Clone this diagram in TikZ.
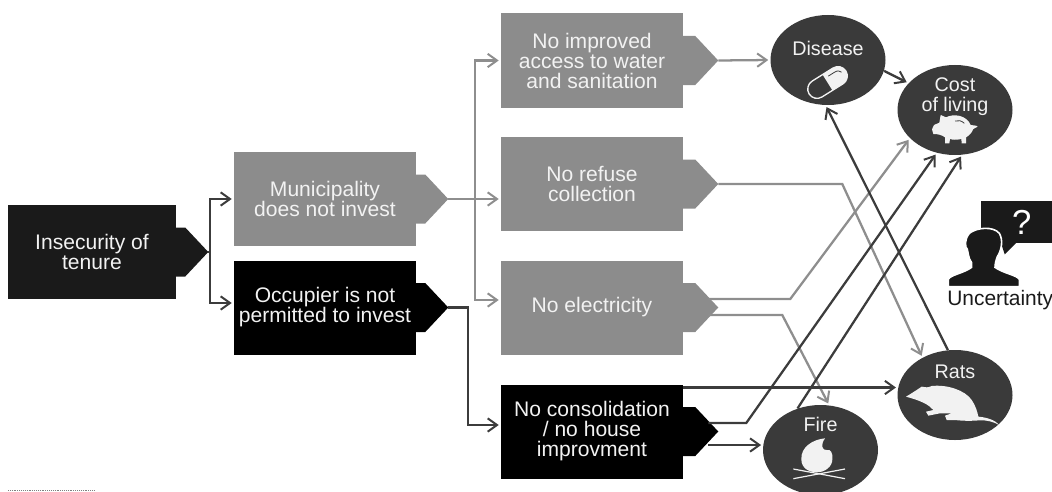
\documentclass[tikz,border=0pt]{standalone}
\usepackage{fontspec}
\setmainfont{Liberation Sans}
\usetikzlibrary{arrows.meta,calc,shapes.geometric}
\definecolor{boxgray}{HTML}{8C8C8C}
\definecolor{linegray}{HTML}{8E8E8E}
\definecolor{darkline}{HTML}{3C3C3C}
\definecolor{circ}{HTML}{3A3A3A}
\definecolor{ink}{HTML}{1A1A1A}
\definecolor{paper}{HTML}{F2F2F2}
\tikzset{
  basebox/.style={rectangle,minimum width=136.5pt,minimum height=70.5pt,inner sep=0pt,align=center,text=paper,
    font=\fontsize{15.8}{15}\selectfont},
  graybox/.style={basebox,fill=boxgray},
  blackbox/.style={basebox,fill=black},
  blob/.style={ellipse,fill=circ,minimum width=86.25pt,minimum height=67.5pt,inner sep=0pt,text=paper,
    font=\fontsize{14.8}{15}\selectfont},
  link/.style={line width=1.7pt,-{Straight Barb[length=7pt,width=10pt,line width=1.5pt]},shorten >=1.5pt},
  glink/.style={link,draw=linegray},
  dlink/.style={link,draw=darkline},
  icon/.style={x=0.25pt,y=-0.25pt}
}
\newcommand{\boxtab}[3]{%
  \fill[#3] ($(#1.east)+(-0.5,-24.5)$) -- ($(#1.east)+(#2,-24.5)$) -- ($(#1.east)+(#2+23,0)$) -- ($(#1.east)+(#2,24.5)$) -- ($(#1.east)+(-0.5,24.5)$) -- cycle;
  \coordinate (#1-tip) at ($(#1.east)+(#2+23,0)$);}
\newcommand{\uptext}[2]{\smash{\raisebox{#1}{\begin{tabular}{@{}c@{}}#2\end{tabular}}}}
\begin{document}
\begin{tikzpicture}[x=0.75pt,y=-0.75pt]
\useasboundingbox (0,0) rectangle (1052,492);
\clip (0,0) rectangle (1052,492);
% boxes
\node[basebox,fill=ink,minimum width=126pt] (ins) at (92,252) {Insecurity of\\tenure};
\boxtab{ins}{9}{ink}
\node[graybox] (mun) at (325,199) {Municipality\\does not invest};
\boxtab{mun}{9}{boxgray}
\node[blackbox] (occ) at (325,307.5) {Occupier is not\\permitted to invest};
\boxtab{occ}{9}{black}
\node[graybox] (imp) at (592,60.5) {No improved\\access to water\\and sanitation};
\boxtab{imp}{12}{boxgray}
\node[graybox] (ref) at (592,184) {No refuse\\collection};
\boxtab{ref}{12}{boxgray}
\node[graybox] (ele) at (592,307.5) {No electricity};
\boxtab{ele}{12}{boxgray}
\node[blackbox] (con) at (592,431.5) {No consolidation\\/ no house\\improvment};
\boxtab{con}{12}{black}
% outcomes
\node[blob] (dis) at (828,60) {\uptext{3pt}{Disease}};
\node[blob] (cost) at (955,110) {\uptext{6pt}{Cost\\of living}};
\node[blob] (rats) at (955,395) {\uptext{11.75pt}{Rats}};
\node[blob] (fire) at (820.5,450) {\uptext{13.25pt}{Fire}};
% helper coordinates
\coordinate (trunkins) at ($(ins-tip)+(2,0)$);
\coordinate (trunkmun) at ($(mun-tip)+(26.5,0)$);
\coordinate (trunkocc) at ($(occ-tip)+(20,0)$);
\coordinate (occin) at ($(occ.west)+(0,-4.5)$);
\coordinate (eleinp) at ($(ele.west)+(0,-7.5)$);
\coordinate (conin) at ($(con.west)+(0,-6.5)$);
\coordinate (refin) at ($(ref.west)+(0,15)$);
\coordinate (refbend) at ($(ref-tip)+(124,0)$);
\coordinate (eleup) at ($(ele.east)+(25,-8.5)$);
\coordinate (eleupb) at ($(ele.east)+(107,-8.5)$);
\coordinate (eledn) at ($(ele.east)+(25,7.5)$);
\coordinate (eledb) at ($(ele.east)+(99,7.5)$);
\coordinate (contop) at ($(con.east)+(0,-44)$);
\coordinate (conmid) at ($(con.east)+(25,-8.5)$);
\coordinate (conmb) at ($(con.east)+(63,-8.5)$);
\coordinate (conlow) at ($(con.east)+(25,13.5)$);
% connectors
\draw[dlink] (ins-tip) -- (trunkins) |- (mun.west);
\draw[dlink] (trunkins) |- (occin);
\draw[glink] (mun-tip) -- (mun-tip -| ref.west);
\draw[glink] (trunkmun) |- (imp.west);
\draw[glink] (trunkmun) |- (eleinp);
\draw[dlink] (occ-tip) -- (trunkocc) |- (conin);
\draw[glink] (imp-tip) -- (dis.west);
\draw[dlink] (dis.-11) -- (cost.150);
\draw[glink] (ref-tip) -- (refbend) -- (rats.131.7);
\draw[glink] (eleup) -- (eleupb) -- (cost.212.6);
\draw[glink] (eledn) -- (eledb) -- (fire.79);
\draw[dlink] (contop) -- (contop -| rats.173);
\draw[dlink] (conmid) -- (conmb) -- (cost.247.4);
\draw[dlink] (conlow) -- (conlow -| fire.175);
\draw[dlink] (fire.119) -- (cost.279.5);
\draw[dlink] (rats.99) -- (dis.267.5);
% pill
\begin{scope}[shift={(827.5,82.5)},rotate=32,icon]
  \begin{scope}\clip (0,-40) rectangle (80,40);
    \fill[paper,rounded corners=7pt] (-65,-28) rectangle (65,28);
  \end{scope}
  \draw[paper,line width=1pt,rounded corners=7pt] (-65,-28) rectangle (65,28);
  \draw[circ,line width=0.6pt] (12,-15) -- (35,-15) .. controls (45,-15) and (50,-10) .. (52,-4);
\end{scope}
% piggy
\begin{scope}[shift={(910,60)},icon]
  \fill[paper] (66,208) -- (72,195) -- (88,188) -- (92,165) -- (108,172)
    .. controls (130,160) and (170,165) .. (182,195) -- (198,197) -- (203,200) -- (190,207)
    .. controls (185,220) and (175,228) .. (168,232) -- (168,250) -- (155,250) -- (154,237)
    .. controls (140,240) and (128,240) .. (120,237) -- (118,250) -- (105,250) -- (105,232)
    .. controls (95,225) and (85,222) .. (70,222) -- cycle;
  \draw[circ,line width=0.6pt] (135,183) .. controls (145,180) and (155,182) .. (163,190);
\end{scope}
% rat
\begin{scope}[shift={(890,345)},icon]
  \fill[paper] (48,155) .. controls (65,145) and (80,135) .. (95,125)
    .. controls (105,128) and (115,128) .. (125,123)
    .. controls (170,118) and (225,135) .. (245,165)
    .. controls (258,185) and (262,200) .. (265,215)
    .. controls (290,217) and (315,225) .. (328,240)
    .. controls (310,230) and (290,225) .. (268,226)
    .. controls (245,228) and (220,228) .. (195,225)
    -- (170,225) -- (165,212) -- (185,205) -- (150,205) -- (115,212) -- (108,200) -- (130,195)
    .. controls (115,178) and (95,168) .. (48,155) -- cycle;
\end{scope}
% flame
\begin{scope}[shift={(780,400)},icon]
  \fill[paper] (135,115) .. controls (100,118) and (62,140) .. (64,178)
    .. controls (64,205) and (88,217) .. (110,217)
    .. controls (135,217) and (157,200) .. (157,178)
    .. controls (159,160) and (152,146) .. (140,150)
    .. controls (127,152) and (120,135) .. (135,115) -- cycle;
  \draw[paper,line width=0.9pt] (40,207) -- (195,236);
  \draw[paper,line width=0.9pt] (40,236) -- (195,207);
\end{scope}
% uncertainty figure
\node[rectangle,fill=ink,minimum width=53.25pt,minimum height=31.5pt,inner sep=0pt,text=white,font=\fontsize{26}{26}\selectfont] (bubble) at (1016.5,222) {\hspace*{8pt}\raisebox{-1.5pt}{?}};
\fill[ink] ($(bubble.south west)+(20,-1)$) -- ($(bubble.south west)+(24,11)$) -- ($(bubble.south west)+(36,-1)$) -- cycle;
\begin{scope}[shift={(940,190)},icon]
  \filldraw[fill=ink,draw=white,line width=1.2pt] (25,290) -- (25,268)
    .. controls (30,255) and (70,250) .. (95,232) -- (95,218)
    .. controls (85,205) and (85,190) .. (82,178)
    .. controls (75,172) and (72,150) .. (88,130)
    .. controls (110,112) and (160,108) .. (178,130)
    .. controls (190,150) and (185,180) .. (172,200)
    .. controls (168,210) and (165,222) .. (165,232)
    .. controls (190,250) and (230,255) .. (238,268) -- (238,290) -- cycle;
\end{scope}
\node[anchor=base west,inner sep=0pt,text=ink,font=\fontsize{15.7}{16}\selectfont] (unc) at (947,305.5) {Uncertainty};
% faint rule
\draw[gray,line width=0.5pt,dash pattern=on 0.7pt off 0.7pt] (8,490) -- (95,490);
\end{tikzpicture}
\end{document}
